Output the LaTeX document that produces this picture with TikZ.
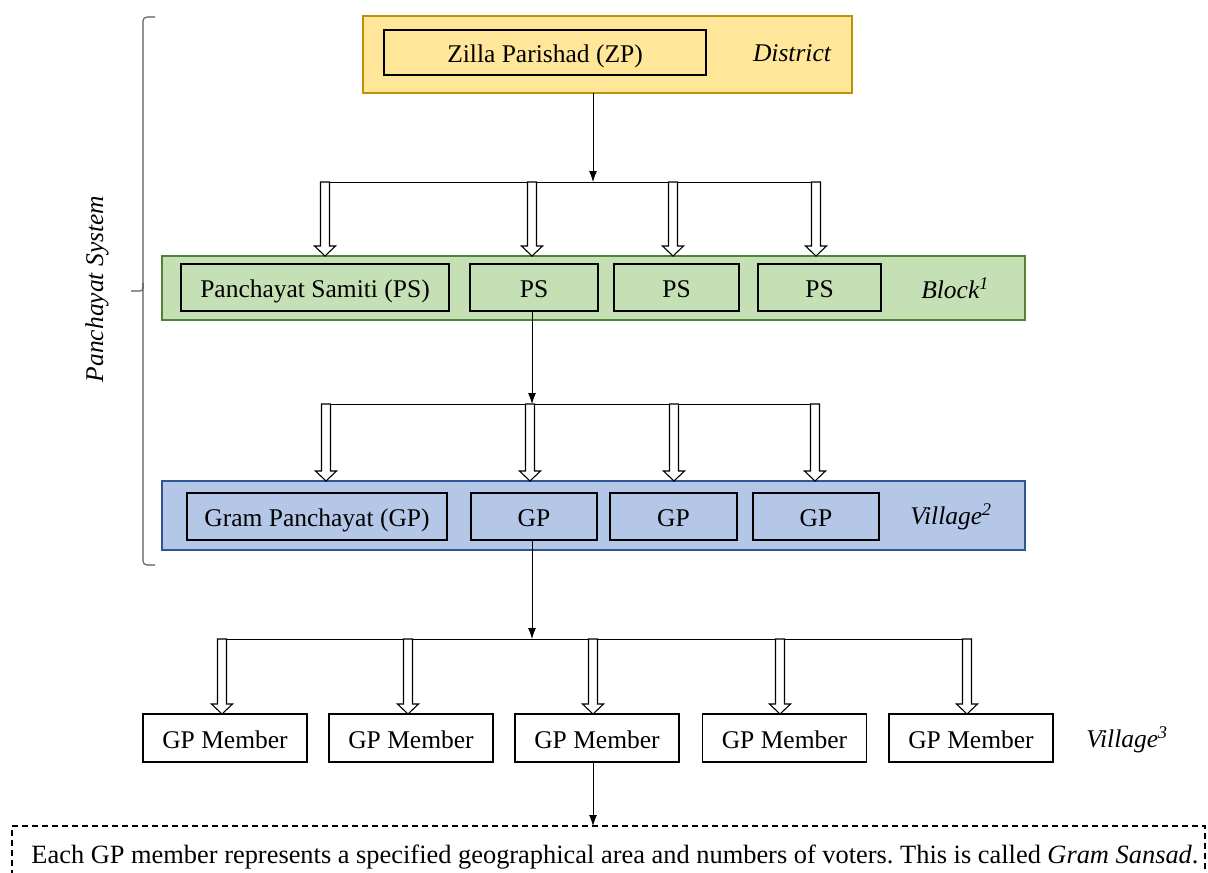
\documentclass[tikz,border=0pt]{standalone}
\usepackage{fontspec}
\setmainfont{Liberation Serif}
\usetikzlibrary{calc,arrows.meta}
\definecolor{zpfill}{HTML}{FFE699}
\definecolor{zpdraw}{HTML}{BF9000}
\definecolor{psfill}{HTML}{C5E0B4}
\definecolor{psdraw}{HTML}{548235}
\definecolor{gpfill}{HTML}{B4C7E7}
\definecolor{gpdraw}{HTML}{2F5597}
\definecolor{bracecol}{HTML}{595959}
\newcommand\hollowarrow[2]{%
  \draw[hollow] let \p1=#1, \p2=#2 in
    (\x1-4.5pt,\y1) -- (\x1-4.5pt,\y2+10pt) -- (\x1-10.5pt,\y2+10pt) -- (\x1,\y2)
    -- (\x1+10.5pt,\y2+10pt) -- (\x1+4.5pt,\y2+10pt) -- (\x1+4.5pt,\y1) -- cycle;}
\frenchspacing
\begin{document}
\begin{tikzpicture}[x=1pt,y=-1pt,
  every node/.style={font=\fontsize{25.5}{30}\selectfont, inner sep=0pt, outer sep=0pt},
  lvl/.style={draw, line width=1.6pt},
  ibox/.style={draw=black, line width=1.6pt, minimum height=47pt, text height=20pt, text depth=0pt},
  mbox/.style={draw=black, line width=1.4pt, fill=white, minimum width=164pt, minimum height=48pt, text height=20pt, text depth=0pt},
  lab/.style={font=\fontsize{25.5}{30}\selectfont\itshape},
  conn/.style={line width=0.9pt, -{Latex[length=11pt,width=8pt]}},
  bus/.style={line width=0.9pt},
  hollow/.style={draw=black, line width=1.1pt, fill=white, line join=miter},
  brace/.style={draw=bracecol, line width=1.1pt, rounded corners=4pt}
]
\useasboundingbox (0,0) rectangle (1208,873);
\clip (0,0) rectangle (1208,873);

% District level
\node[lvl, fill=zpfill, draw=zpdraw, minimum width=489pt, minimum height=77pt] (zpo) at (607.5,54.5) {};
\node[ibox, minimum width=322pt, minimum height=45pt] (zp) at (545,52.5) {Zilla Parishad (ZP)};
\node[lab] (dist) at (792,53) {District};

% Block level
\node[lvl, fill=psfill, draw=psdraw, minimum width=863pt, minimum height=64pt] (pso) at (593.5,288) {};
\node[ibox, minimum width=268pt] (ps1) at (315,287.5) {Panchayat Samiti (PS)};
\node[ibox, minimum width=128pt] (ps2) at (534,287.5) {PS};
\node[ibox, minimum width=125pt] (ps3) at (676.5,287.5) {PS};
\node[ibox, minimum width=123pt] (ps4) at (819.5,287.5) {PS};
\node[lab] (block) at (955,288) {Block\textsuperscript{1}};

% Village level
\node[lvl, fill=gpfill, draw=gpdraw, minimum width=863pt, minimum height=69pt] (gpo) at (593.5,515.5) {};
\node[ibox, minimum width=260pt] (gp1) at (317,516.5) {Gram Panchayat (GP)};
\node[ibox, minimum width=126pt] (gp2) at (534,516.5) {GP};
\node[ibox, minimum width=127pt] (gp3) at (673.5,516.5) {GP};
\node[ibox, minimum width=126pt] (gp4) at (816,516.5) {GP};
\node[lab] (vil2) at (951,517) {Village\textsuperscript{2}};

% Members
\node[mbox] (m1) at (225,738) {GP Member};
\node[mbox] (m2) at (411,738) {GP Member};
\node[mbox] (m3) at (597,738) {GP Member};
\node[mbox] (m4) at (784.5,738) {GP Member};
\node[mbox] (m5) at (971,738) {GP Member};
\node[lab] (vil3) at (1127,740) {Village\textsuperscript{3}};

% Note box
\node[draw=black, line width=1.2pt, dash pattern=on 6pt off 4pt, minimum width=1193pt, minimum height=70pt] (notebox) at (608.5,861) {};
\node[font=\fontsize{26.4}{30}\selectfont] (note) at (615,857) {Each GP member represents a specified geographical area and numbers of voters. This is called \textit{Gram Sansad}.};

% Brace
\draw[brace] (155,17) -- (143,17) -- (143,565) -- (155,565);
\draw[brace, rounded corners=3pt] (143,283) -- (143,291) -- (131,291);
\node[lab, rotate=90] (ps) at (97,289) {Panchayat System};

% Connectors ZP -> PS
\coordinate (b1) at (593,182);
\draw[conn] (zpo.south -| b1) -- (b1);
\coordinate (b1l) at (325,182);
\coordinate (b1r) at (816,182);
\draw[bus] (b1l) -- (b1r);
\foreach \x [count=\i] in {325,532,673,816} {
  \coordinate (ta\i) at (\x,182);
  \hollowarrow{(ta\i)}{(pso.north -| ta\i)}
}

% PS -> GP
\coordinate (b2) at (532,404);
\draw[conn] (ps2.south -| b2) -- (b2);
\coordinate (b2l) at (326,404);
\coordinate (b2r) at (816,404);
\draw[bus] (b2l) -- (b2r);
\foreach \x [count=\i] in {326,530,674,815} {
  \coordinate (tb\i) at (\x,404);
  \hollowarrow{(tb\i)}{(gpo.north -| tb\i)}
}

% GP -> members
\coordinate (b3) at (532,639);
\draw[conn] (gp2.south -| b3) -- (b3);
\coordinate (b3l) at (222,639);
\coordinate (b3r) at (967,639);
\draw[bus] (b3l) -- (b3r);
\foreach \x/\m [count=\i] in {222/m1,408/m2,593/m3,780/m4,967/m5} {
  \coordinate (tc\i) at (\x,639);
  \hollowarrow{(tc\i)}{(\m.north -| tc\i)}
}

% member -> note
\coordinate (b4) at (593,826);
\draw[conn] (m3.south -| b4) -- (notebox.north -| b4);
\end{tikzpicture}
\end{document}
